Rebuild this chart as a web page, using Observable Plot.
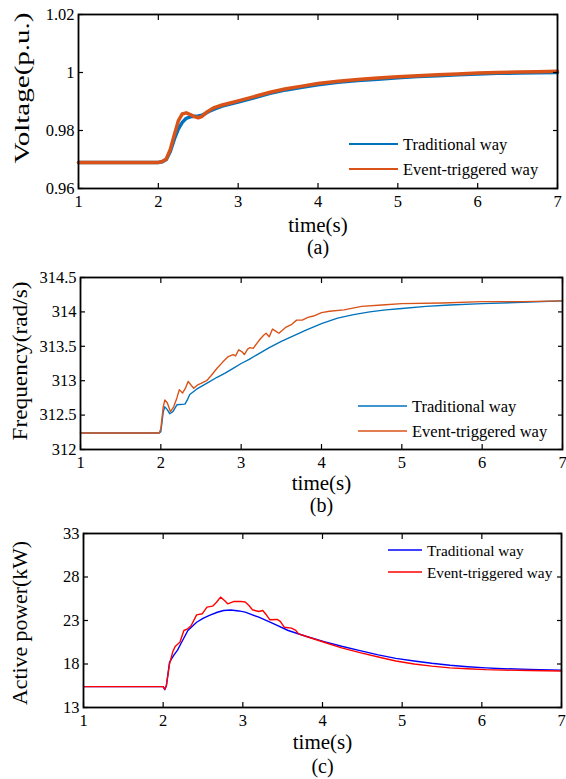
<!DOCTYPE html>
<html><head><meta charset="utf-8">
<script src="https://cdn.jsdelivr.net/npm/d3@7"></script>
<script src="https://cdn.jsdelivr.net/npm/@observablehq/plot@0.6"></script>
<style>body{margin:0;background:#fff;} #chart svg{display:block;} #chart svg text{font-family:'Liberation Serif','Times New Roman',serif;}</style>
</head><body><div id="chart"></div><script>
const xTicks = [1, 2, 3, 4, 5, 6, 7];
const seriesNames = ["Traditional way", "Event-triggered way"];
const captions = ["(a)", "(b)", "(c)"];
const yLabels = ["Voltage(p.u.)", "Frequency(rad/s)", "Active power(kW)"];
const xLabel = "time(s)";

// (a) Voltage
const voltTicks = [0.96, 0.98, 1, 1.02];
const voltTime = [1, 1.5, 2, 2.05, 2.1, 2.15, 2.2, 2.25, 2.3, 2.35, 2.4, 2.45, 2.5, 2.55, 2.6, 2.65, 2.7, 2.8, 2.9, 3.0, 3.2, 3.4, 3.6, 3.8, 4.0, 4.25, 4.5, 4.75, 5.0, 5.25, 5.5, 5.75, 6.0, 6.25, 6.5, 6.75, 7.0];
const voltTraditional = [0.969, 0.969, 0.969, 0.9692, 0.9700, 0.9728, 0.9770, 0.9805, 0.9828, 0.9842, 0.9847, 0.9849, 0.9850, 0.9853, 0.9860, 0.9868, 0.9874, 0.9884, 0.9891, 0.9898, 0.9913, 0.9928, 0.9940, 0.9949, 0.9958, 0.9966, 0.9972, 0.9977, 0.9982, 0.9986, 0.9989, 0.9992, 0.9995, 0.9997, 0.9998, 0.9999, 1.0000];
const voltEvent = [0.969, 0.969, 0.969, 0.9693, 0.9702, 0.9735, 0.9785, 0.9833, 0.9857, 0.9861, 0.9855, 0.9848, 0.9844, 0.9849, 0.9862, 0.9871, 0.9879, 0.9888, 0.9895, 0.9902, 0.9917, 0.9932, 0.9944, 0.9953, 0.9962, 0.9970, 0.9976, 0.9981, 0.9985, 0.9989, 0.9992, 0.9995, 0.9998, 1.0000, 1.0002, 1.0003, 1.0004];

// (b) Frequency
const freqTicks = [312, 312.5, 313, 313.5, 314, 314.5];
const freqTradTime = [1, 1.98, 2.0, 2.03, 2.05, 2.08, 2.11, 2.15, 2.2, 2.3, 2.33, 2.36, 2.45, 2.57, 2.7, 2.8, 2.9, 3.0, 3.1, 3.2, 3.35, 3.5, 3.65, 3.8, 4.0, 4.2, 4.4, 4.6, 4.8, 5.0, 5.3, 5.6, 6.0, 6.5, 7.0];
const freqTraditional = [312.24, 312.24, 312.26, 312.55, 312.62, 312.58, 312.52, 312.55, 312.65, 312.66, 312.72, 312.8, 312.88, 312.96, 313.05, 313.11, 313.18, 313.25, 313.31, 313.38, 313.48, 313.57, 313.65, 313.73, 313.83, 313.91, 313.96, 314.0, 314.03, 314.05, 314.08, 314.1, 314.12, 314.14, 314.16];
const freqEventTime = [1, 1.98, 2.0, 2.03, 2.05, 2.08, 2.12, 2.16, 2.2, 2.23, 2.27, 2.31, 2.34, 2.38, 2.41, 2.46, 2.5, 2.57, 2.63, 2.7, 2.77, 2.84, 2.9, 2.93, 2.97, 3.01, 3.04, 3.08, 3.11, 3.15, 3.2, 3.24, 3.28, 3.31, 3.35, 3.39, 3.43, 3.47, 3.52, 3.56, 3.63, 3.69, 3.76, 3.83, 3.9, 4.0, 4.1, 4.28, 4.5, 4.75, 5.0, 5.5, 6.0, 6.5, 7.0];
const freqEvent = [312.24, 312.24, 312.3, 312.62, 312.72, 312.68, 312.55, 312.62, 312.75, 312.87, 312.82, 312.9, 312.99, 312.93, 312.89, 312.94, 312.96, 313.0, 313.08, 313.18, 313.27, 313.35, 313.38, 313.36, 313.45, 313.42, 313.38, 313.46, 313.48, 313.47, 313.55, 313.61, 313.66, 313.69, 313.64, 313.75, 313.72, 313.69, 313.74, 313.78, 313.82, 313.88, 313.88, 313.92, 313.94, 313.99, 314.01, 314.03, 314.08, 314.1, 314.12, 314.13, 314.15, 314.15, 314.16];

// (c) Active power
const powerTicks = [13, 18, 23, 28, 33];
const powerTradTime = [1, 2.0, 2.02, 2.04, 2.08, 2.13, 2.18, 2.22, 2.31, 2.42, 2.5, 2.58, 2.68, 2.76, 2.85, 2.95, 3.03, 3.2, 3.39, 3.57, 3.79, 4.02, 4.24, 4.47, 4.7, 4.92, 5.15, 5.37, 5.6, 5.82, 6.05, 6.27, 6.6, 7.0];
const powerTraditional = [15.4, 15.4, 15.05, 15.5, 18.2, 18.96, 19.6, 20.3, 21.85, 22.8, 23.25, 23.58, 23.95, 24.15, 24.2, 24.1, 23.96, 23.38, 22.62, 21.85, 21.19, 20.58, 20.04, 19.54, 19.05, 18.65, 18.35, 18.08, 17.85, 17.69, 17.55, 17.46, 17.38, 17.3];
const powerEventTime = [1, 2.0, 2.02, 2.04, 2.08, 2.12, 2.15, 2.21, 2.26, 2.3, 2.35, 2.42, 2.49, 2.55, 2.62, 2.67, 2.72, 2.77, 2.81, 2.89, 2.97, 3.03, 3.08, 3.12, 3.2, 3.25, 3.3, 3.34, 3.43, 3.47, 3.52, 3.61, 3.66, 3.7, 3.79, 4.02, 4.24, 4.47, 4.7, 4.92, 5.15, 5.37, 5.6, 5.82, 6.05, 6.27, 6.6, 7.0];
const powerEvent = [15.4, 15.4, 15.1, 15.5, 18.0, 19.4, 20.0, 20.5, 21.85, 22.0, 22.4, 23.65, 23.77, 24.54, 24.65, 25.1, 25.69, 25.3, 24.92, 25.19, 25.2, 25.12, 24.7, 24.23, 24.04, 24.15, 23.6, 23.08, 23.12, 22.9, 22.23, 22.12, 21.9, 21.46, 21.19, 20.5, 19.85, 19.3, 18.8, 18.35, 18.0, 17.75, 17.55, 17.45, 17.35, 17.3, 17.25, 17.2];

const zip = (ts, vs) => ts.map((t, i) => ({t, v: vs[i]}));
const FONT = "'Liberation Serif', 'Times New Roman', serif";

function panel(o) {
  const svg = Plot.plot({
    width: 566, height: o.height,
    marginTop: o.mt, marginBottom: o.mb, marginLeft: o.ml, marginRight: o.mr,
    style: {fontFamily: FONT, fontSize: "16.5px", color: "#000", background: "#fff", overflow: "visible"},
    x: {domain: [1, 7]},
    y: {domain: o.yDomain},
    marks: [
      Plot.line(o.trad, {x: "t", y: "v", stroke: o.colors[0], strokeWidth: o.sw, strokeLinejoin: "round"}),
      Plot.line(o.event, {x: "t", y: "v", stroke: o.colors[1], strokeWidth: o.sw, strokeLinejoin: "round"}),
      Plot.frame({stroke: "#000", strokeWidth: 1.8}),
      Plot.axisX(xTicks, {anchor: "bottom", tickSize: -5, tickPadding: 12, tickFormat: d => String(d), label: null, strokeWidth: 1.2, fontFamily: FONT}),
      Plot.axisX(xTicks, {anchor: "top", tickSize: -5, tickFormat: () => "", label: null, strokeWidth: 1.2}),
      Plot.axisY(o.yTicks, {anchor: "left", tickSize: -5, tickPadding: 9, tickFormat: d => String(d), label: null, strokeWidth: 1.2, fontFamily: FONT}),
      Plot.axisY(o.yTicks, {anchor: "right", tickSize: -5, tickFormat: () => "", label: null, strokeWidth: 1.2}),
      Plot.text([xLabel], {text: d => d, frameAnchor: "bottom", dy: o.xlDy, fontSize: 21, fontFamily: FONT, lineAnchor: "middle"}),
      Plot.text([o.caption], {text: d => d, frameAnchor: "bottom", dy: o.capDy, fontSize: 20, fontFamily: FONT, lineAnchor: "middle"})
    ]
  });
  const s = d3.select(svg);
  s.append("text")
    .attr("transform", `translate(${o.yl.x},${o.yl.y}) rotate(-90)`)
    .attr("text-anchor", "middle").attr("dominant-baseline", "central")
    .attr("font-family", FONT).attr("font-size", 21).attr("fill", "#000")
    .attr("textLength", o.yl.len).attr("lengthAdjust", "spacingAndGlyphs")
    .text(o.ylabel);
  const lg = o.legend;
  seriesNames.forEach((name, i) => {
    const y = lg.y[i];
    s.append("line").attr("x1", lg.x1).attr("x2", lg.x2).attr("y1", y).attr("y2", y)
      .attr("stroke", o.colors[i]).attr("stroke-width", lg.sw);
    s.append("text").attr("x", lg.tx).attr("y", y)
      .attr("text-anchor", "start").attr("dominant-baseline", "central")
      .attr("font-family", FONT).attr("font-size", lg.fs).attr("fill", "#000").text(name);
  });
  return svg;
}

const chart = document.getElementById("chart");
chart.append(panel({
  height: 260, mt: 14, mb: 72, ml: 78, mr: 9,
  yDomain: [0.96, 1.02], yTicks: voltTicks,
  trad: zip(voltTime, voltTraditional), event: zip(voltTime, voltEvent),
  colors: ["#0072BD", "#D95319"], sw: 3.5,
  xlDy: 37, capDy: 59, caption: captions[0], ylabel: yLabels[0],
  yl: {x: 22, y: 88, len: 151},
  legend: {x1: 349, x2: 398, tx: 403, y: [144, 169], sw: 2, fs: 16.5}
}));
chart.append(panel({
  height: 260, mt: 17, mb: 71, ml: 80, mr: 4,
  yDomain: [312, 314.5], yTicks: freqTicks,
  trad: zip(freqTradTime, freqTraditional), event: zip(freqEventTime, freqEvent),
  colors: ["#0072BD", "#D95319"], sw: 1.4,
  xlDy: 34, capDy: 56, caption: captions[1], ylabel: yLabels[1],
  yl: {x: 20, y: 101, len: 159},
  legend: {x1: 358, x2: 407, tx: 412, y: [146, 171], sw: 1.5, fs: 16.5}
}));
chart.append(panel({
  height: 259, mt: 13, mb: 72, ml: 83, mr: 5,
  yDomain: [13, 33], yTicks: powerTicks,
  trad: zip(powerTradTime, powerTraditional), event: zip(powerEventTime, powerEvent),
  colors: ["#0000FF", "#FF0000"], sw: 1.4,
  xlDy: 35, capDy: 59, caption: captions[2], ylabel: yLabels[2],
  yl: {x: 20, y: 103, len: 164},
  legend: {x1: 388, x2: 422, tx: 427, y: [30, 52], sw: 1.5, fs: 15.3}
}));
</script></body></html>
